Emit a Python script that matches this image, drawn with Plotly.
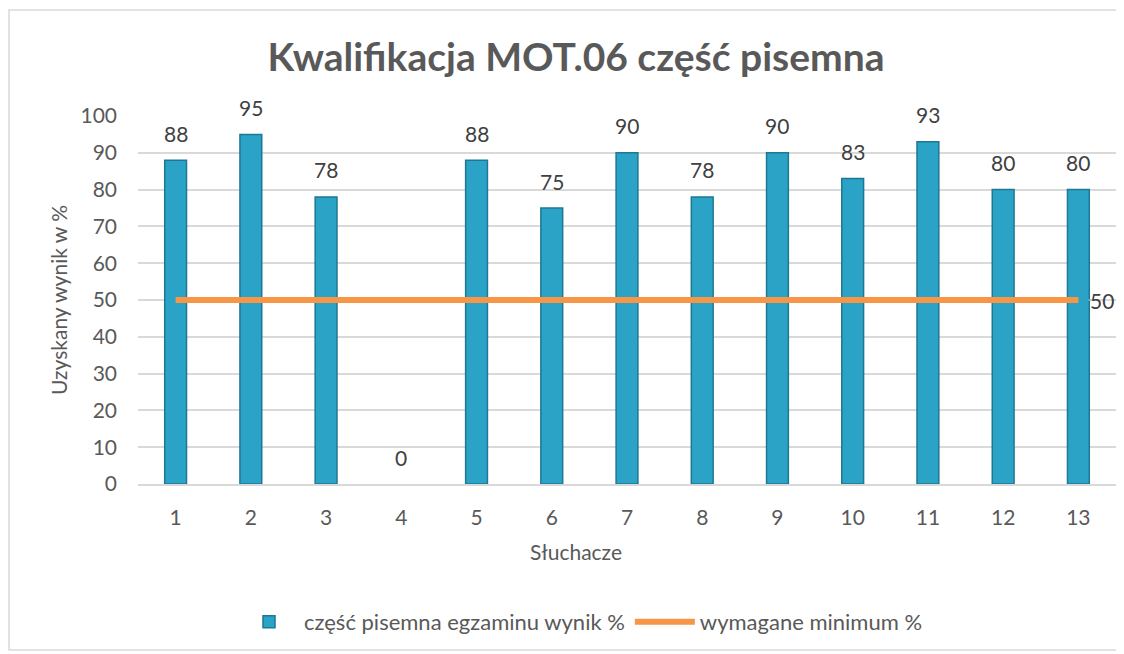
import plotly.graph_objects as go

categories = list(range(1, 14))
scores = [88, 95, 78, 0, 88, 75, 90, 78, 90, 83, 93, 80, 80]
minimum = [50] * 13
title = "Kwalifikacja MOT.06 część pisemna"
bar_name = "część pisemna egzaminu wynik %"
line_name = "wymagane minimum %"

FONT = "Lato"
GREY = "#595959"

# page body has an 8px margin, so figure coords = reference coords - 8
W, H = 1116, 646
L, R, T, B = 130, 1108, 108, 476
PW, PH = R - L, B - T

fig = go.Figure()
fig.add_trace(go.Bar(
    x=categories, y=scores, name=bar_name,
    marker=dict(color="#2BA3C7",
                line=dict(color="#1E7893", width=[1.5 if v > 0 else 0 for v in scores])),
))
fig.add_trace(go.Scatter(
    x=categories, y=minimum, name=line_name, mode="lines",
    line=dict(color="#F79646", width=6),
))

annotations = []
for c, v in zip(categories, scores):
    annotations.append(dict(x=c, y=v, text=str(v), showarrow=False, yshift=27,
                            font=dict(family=FONT, size=21, color="#404040")))
annotations.append(dict(x=categories[-1], y=minimum[-1], text=str(minimum[-1]), showarrow=False,
                        xshift=24, xanchor="center",
                        font=dict(family=FONT, size=21, color="#404040")))
annotations.append(dict(xref="paper", yref="paper", x=(568 - L) / PW, y=(B - 543) / PH,
                        text="Słuchacze", showarrow=False, xanchor="center", yanchor="middle",
                        font=dict(family=FONT, size=21, color=GREY)))
annotations.append(dict(xref="paper", yref="paper", x=(50 - L) / PW, y=(B - 292) / PH,
                        text="Uzyskany wynik w %", showarrow=False, textangle=-90,
                        xanchor="center", yanchor="middle",
                        font=dict(family=FONT, size=21, color=GREY)))

shapes = [
    dict(type="rect", xref="paper", yref="paper",
         x0=(1 - L) / PW, x1=(1114 - L) / PW,
         y0=(B - 642) / PH, y1=(B - 2) / PH,
         line=dict(color="#D9D9D9", width=1.5), fillcolor="rgba(0,0,0,0)", layer="below"),
    dict(type="line", xref="x", yref="y", x0=13.13, x1=13.2, y0=50, y1=50,
         line=dict(color="#BFBFBF", width=1)),
]

fig.update_layout(
    width=W, height=H,
    margin=dict(l=L, r=W - R, t=T, b=H - B, autoexpand=False),
    paper_bgcolor="white", plot_bgcolor="white",
    title=dict(text="<b>" + title + "</b>", x=568 / W, xanchor="center",
               y=1 - 49 / H, yanchor="middle", yref="container",
               font=dict(family=FONT, size=39, color=GREY)),
    bargap=0.71,
    xaxis=dict(range=[0.5, 13.5], tickmode="array", tickvals=categories,
               ticktext=[str(c) for c in categories], automargin=False,
               showgrid=False, showline=True, linecolor="#D9D9D9", linewidth=1.5,
               zeroline=False, ticks="", ticklabelstandoff=14,
               tickfont=dict(family=FONT, size=21, color=GREY)),
    yaxis=dict(range=[0, 100], dtick=10, showgrid=True, gridcolor="#D9D9D9", gridwidth=1.5,
               zeroline=False, ticks="", ticklabelstandoff=20, automargin=False,
               tickfont=dict(family=FONT, size=21, color=GREY)),
    legend=dict(orientation="h", x=(573 - L) / PW, xanchor="center",
                y=(B - 614) / PH, yanchor="middle",
                font=dict(family=FONT, size=22, color=GREY), itemwidth=60),
    annotations=annotations, shapes=shapes, showlegend=True,
)

fig.write_html("out.html")
